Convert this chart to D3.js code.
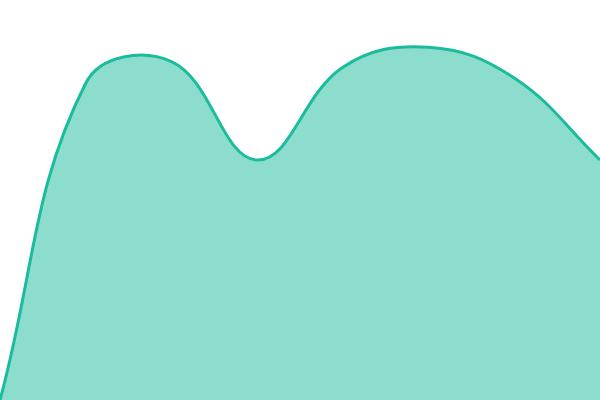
<!DOCTYPE html>
<html>
<head>
<meta charset="utf-8">
<script src="https://cdn.jsdelivr.net/npm/d3@7"></script>
<style>
  body { margin: 0; background: #fff; }
</style>
</head>
<body>
<div class="holder"></div>
<script>
const width = 600;
const height = 400;
const tension = 0.4;

const steps = [0, 1, 2, 3, 4, 5, 6, 7];
const values = [0, 79.2, 84.6, 60, 83.2, 88.2, 80.5, 60];

const svg = d3
  .select('.holder')
  .append('svg')
  .attr('width', width)
  .attr('height', height);

const xScale = d3.scaleLinear().domain([0, 7]).range([0, width]);
const yScale = d3.scaleLinear().domain([0, 100]).range([height, 0]);

const points = values.map((v, i) => [xScale(steps[i]), yScale(v)]);

// spline with distance weighted control points
const clampX = x => Math.max(0, Math.min(width, x));
const clampY = y => Math.max(0, Math.min(height, y));

const controls = points.map((cur, i) => {
  const prev = points[i - 1] || cur;
  const next = points[i + 1] || cur;
  const d01 = Math.hypot(cur[0] - prev[0], cur[1] - prev[1]);
  const d12 = Math.hypot(next[0] - cur[0], next[1] - cur[1]);
  let s01 = d01 / (d01 + d12);
  let s12 = d12 / (d01 + d12);
  if (isNaN(s01)) s01 = 0;
  if (isNaN(s12)) s12 = 0;
  const fa = tension * s01;
  const fb = tension * s12;
  return {
    before: [clampX(cur[0] - fa * (next[0] - prev[0])), clampY(cur[1] - fa * (next[1] - prev[1]))],
    after: [clampX(cur[0] + fb * (next[0] - prev[0])), clampY(cur[1] + fb * (next[1] - prev[1]))]
  };
});

const drawSpline = p => {
  p.moveTo(points[0][0], points[0][1]);
  for (let i = 1; i < points.length; i++) {
    const a = controls[i - 1].after;
    const b = controls[i].before;
    p.bezierCurveTo(a[0], a[1], b[0], b[1], points[i][0], points[i][1]);
  }
  return p;
};

const areaPath = drawSpline(d3.path());
areaPath.lineTo(xScale(7), yScale(0));
areaPath.lineTo(xScale(0), yScale(0));
areaPath.closePath();

svg
  .append('path')
  .attr('d', areaPath.toString())
  .style('fill', '#1abc9c')
  .style('fill-opacity', 0.5);

svg
  .append('path')
  .attr('d', drawSpline(d3.path()).toString())
  .style('fill', 'none')
  .style('stroke', '#1abc9c')
  .style('stroke-width', 3);
</script>
</body>
</html>
